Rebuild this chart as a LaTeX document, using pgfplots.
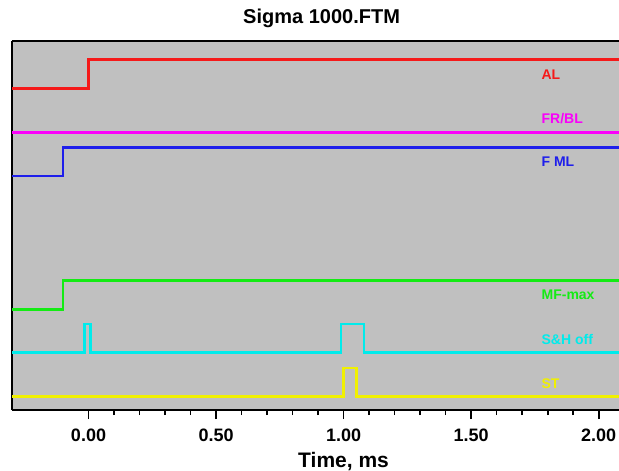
\documentclass[border=0pt]{standalone}
\usepackage{pgfplots}
\pgfplotsset{compat=1.18}
\usepackage{fontspec}
\setmainfont{Liberation Sans}
\definecolor{bggray}{RGB}{192,192,192}
\definecolor{cAL}{RGB}{245,25,25}
\definecolor{cFR}{RGB}{250,0,250}
\definecolor{cFM}{RGB}{30,30,235}
\definecolor{cMF}{RGB}{20,235,20}
\definecolor{cSH}{RGB}{0,235,235}
\definecolor{cST}{RGB}{240,240,0}
\begin{document}
\begin{tikzpicture}
\begin{axis}[
  at={(6pt,30pt)}, anchor=south west,
  scale only axis,
  width=303.5pt, height=184.5pt,
  xmin=-0.30, xmax=2.08,
  ymin=0, ymax=369,
  axis x line*=bottom,
  axis y line*=left,
  axis line style={black, line width=1pt, -},
  axis background/.style={fill=bggray},
  ytick=\empty,
  xtick={0,0.5,1,1.5,2},
  minor x tick num=4,
  tick align=outside,
  major tick length=4.5pt,
  minor tick length=2.5pt,
  every tick/.style={black, line width=0.9pt},
  xticklabel style={font=\bfseries\fontsize{9}{10}\selectfont, anchor=center, yshift=-8pt},
  /pgf/number format/.cd, fixed, fixed zerofill, precision=2, assume math mode=true,
  /pgfplots/.cd,
  clip mode=individual,
]
\addplot[cAL, line width=1.3pt] coordinates {(-0.3,321.7) (0,321.7) (0,350.7) (2.1,350.7)};
\addplot[cFR, line width=1.3pt] coordinates {(-0.3,277.7) (2.1,277.7)};
\addplot[cFM, line width=1.3pt] coordinates {(-0.3,234) (-0.1,234) (-0.1,262.7) (2.1,262.7)};
\addplot[cMF, line width=1.3pt] coordinates {(-0.3,100.7) (-0.1,100.7) (-0.1,129.3) (2.1,129.3)};
\addplot[cSH, line width=1.3pt] coordinates {(-0.3,57.7) (-0.015,57.7) (-0.015,86) (0.008,86) (0.008,57.7) (0.99,57.7) (0.99,86) (1.08,86) (1.08,57.7) (2.1,57.7)};
\addplot[cST, line width=1.3pt] coordinates {(-0.3,13.3) (1.0,13.3) (1.0,42) (1.05,42) (1.05,13.3) (2.1,13.3)};
\draw[black, line width=1pt] (rel axis cs:0,1) -- (rel axis cs:1,1);
\begin{scope}[every node/.style={anchor=west, inner sep=0pt, font=\bfseries\fontsize{7}{8}\selectfont}]
\node[text=cAL] at (axis cs:1.775,335) {AL};
\node[text=cFR] at (axis cs:1.775,291) {FR/BL};
\node[text=cFM] at (axis cs:1.775,248.3) {F ML};
\node[text=cMF] at (axis cs:1.775,115) {MF-max};
\node[text=cSH] at (axis cs:1.775,71) {S\&H off};
\node[text=cST] at (axis cs:1.775,26.7) {ST};
\end{scope}
\node[font=\bfseries\fontsize{10.5}{12}\selectfont, anchor=center] at (axis cs:1,0) [yshift=-26pt] {Time, ms};
\node[font=\bfseries\fontsize{10}{12}\selectfont, anchor=center] at (rel axis cs:0.51,1) [yshift=11.5pt] {Sigma 1000.FTM};
\end{axis}
\pgfresetboundingbox
\path (0,0) rectangle (309.5pt,235pt);
\end{tikzpicture}
\end{document}
